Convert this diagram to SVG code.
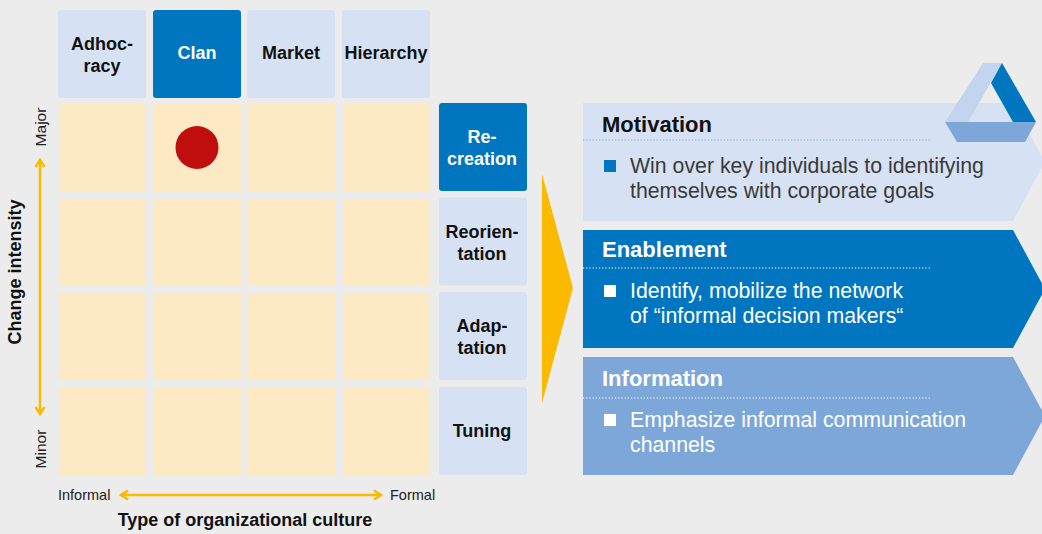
<svg xmlns="http://www.w3.org/2000/svg" width="1042" height="534" viewBox="0 0 1042 534">
<style>
.bg{fill:#ececec}
.hdr{fill:#d6e2f3}
.dark{fill:#0076c0}
.mid{fill:#7da7d9}
.cell{fill:#fdeac4}
.lbl{font-family:"Liberation Sans",Arial,sans-serif;font-weight:bold;font-size:18px;text-anchor:middle;fill:#111}
.lblw{fill:#fff}
.axis{font-family:"Liberation Sans",Arial,sans-serif;font-size:14.5px;fill:#222}
.axv{font-size:15.5px}
.ttl{font-family:"Liberation Sans",Arial,sans-serif;font-weight:bold;font-size:22px;fill:#111}
.txt{font-family:"Liberation Sans",Arial,sans-serif;font-size:21.3px;fill:#3a3a3a}
.w{fill:#fff}
.arr{stroke:#fbb900;stroke-width:2.5;fill:none}
</style>
<defs>
<marker id="chev" markerUnits="userSpaceOnUse" markerWidth="14" markerHeight="14" viewBox="-10 -7 12 14" refX="0" refY="0" orient="auto-start-reverse">
<path d="M-7,-4.5 L0,0 L-7,4.5" fill="none" stroke="#fbb900" stroke-width="2.5"/>
</marker>
</defs>
<rect class="bg" x="0" y="0" width="1042" height="534"/>

<g id="header-adhocracy"><rect class="hdr" x="58" y="10" width="88" height="88" rx="3"/><text class="lbl" x="102" y="50">Adhoc-</text><text class="lbl" x="102" y="72">racy</text></g>
<g id="header-clan"><rect class="dark" x="153" y="10" width="88" height="88" rx="3"/><text class="lbl lblw" x="197" y="59">Clan</text></g>
<g id="header-market"><rect class="hdr" x="247" y="10" width="88" height="88" rx="3"/><text class="lbl" x="291" y="59">Market</text></g>
<g id="header-hierarchy"><rect class="hdr" x="342" y="10" width="88" height="88" rx="3"/><text class="lbl" x="386" y="59">Hierarchy</text></g>

<g id="grid">
<rect class="cell" x="59" y="104" width="87" height="87"/><rect class="cell" x="154" y="104" width="87" height="87"/><rect class="cell" x="248" y="104" width="87" height="87"/><rect class="cell" x="343" y="104" width="87" height="87"/>
<rect class="cell" x="59" y="199" width="87" height="87"/><rect class="cell" x="154" y="199" width="87" height="87"/><rect class="cell" x="248" y="199" width="87" height="87"/><rect class="cell" x="343" y="199" width="87" height="87"/>
<rect class="cell" x="59" y="293" width="87" height="87"/><rect class="cell" x="154" y="293" width="87" height="87"/><rect class="cell" x="248" y="293" width="87" height="87"/><rect class="cell" x="343" y="293" width="87" height="87"/>
<rect class="cell" x="59" y="388" width="87" height="87"/><rect class="cell" x="154" y="388" width="87" height="87"/><rect class="cell" x="248" y="388" width="87" height="87"/><rect class="cell" x="343" y="388" width="87" height="87"/>
</g>
<g id="marker-dot"><circle cx="197" cy="147.5" r="21.5" fill="#c00e0e"/></g>

<g id="row-recreation"><rect class="dark" x="439" y="103" width="88" height="88" rx="3"/><text class="lbl lblw" x="482" y="143">Re-</text><text class="lbl lblw" x="482" y="165">creation</text></g>
<g id="row-reorientation"><rect class="hdr" x="439" y="197.5" width="88" height="88" rx="3"/><text class="lbl" x="482" y="238">Reorien-</text><text class="lbl" x="482" y="260">tation</text></g>
<g id="row-adaptation"><rect class="hdr" x="439" y="292" width="88" height="88" rx="3"/><text class="lbl" x="482" y="332">Adap-</text><text class="lbl" x="482" y="354">tation</text></g>
<g id="row-tuning"><rect class="hdr" x="439" y="387" width="88" height="88" rx="3"/><text class="lbl" x="482" y="437">Tuning</text></g>

<g id="axis-labels">
<text class="axis axv" transform="translate(45.5,127) rotate(-90)" text-anchor="middle">Major</text>
<text class="axis axv" transform="translate(45.5,449) rotate(-90)" text-anchor="middle">Minor</text>
<text class="lbl" transform="translate(21,272) rotate(-90)">Change intensity</text>
<text class="axis" x="58" y="500">Informal</text>
<text class="axis" x="390" y="500">Formal</text>
<text class="lbl" x="245" y="526">Type of organizational culture</text>
</g>

<g id="connectors">
<line class="arr" x1="40" y1="160" x2="40" y2="414" marker-start="url(#chev)" marker-end="url(#chev)"/>
<line class="arr" x1="121" y1="495" x2="381" y2="495" marker-start="url(#chev)" marker-end="url(#chev)"/>
<polygon points="542,174 573,288 542,403" fill="#fbb900"/>
</g>

<g id="panel-motivation">
<polygon points="583,103 1013,103 1045,162 1013,221 583,221" class="hdr"/>
<text class="ttl" x="602" y="132">Motivation</text>
<line x1="583" y1="140" x2="931" y2="140" stroke="#7da7d9" stroke-width="1.2" stroke-dasharray="1.2 2"/>
<rect x="604" y="160" width="12" height="12" class="dark"/>
<text class="txt" x="630" y="173">Win over key individuals to identifying</text>
<text class="txt" x="630" y="198">themselves with corporate goals</text>
</g>

<g id="panel-enablement">
<polygon points="583,230 1013,230 1045,289 1013,348 583,348" class="dark"/>
<text class="ttl w" x="602" y="257">Enablement</text>
<line x1="583" y1="268" x2="931" y2="268" stroke="#fff" stroke-width="1.2" stroke-dasharray="1.2 2"/>
<rect x="604" y="285" width="12" height="12" fill="#fff"/>
<text class="txt w" x="630" y="298">Identify, mobilize the network</text>
<text class="txt w" x="630" y="323">of “informal decision makers“</text>
</g>

<g id="panel-information">
<polygon points="583,357 1013,357 1045,416 1013,475 583,475" class="mid"/>
<text class="ttl w" x="602" y="386">Information</text>
<line x1="583" y1="398" x2="931" y2="398" stroke="#fff" stroke-width="1.2" stroke-dasharray="1.2 2"/>
<rect x="604" y="414" width="12" height="12" fill="#fff"/>
<text class="txt w" x="630" y="427">Emphasize informal communication</text>
<text class="txt w" x="630" y="452">channels</text>
</g>

<g id="logo">
<polygon points="983,63 1002,63 968,122 945,122" fill="#c3d4ee"/>
<polygon points="1002,63 1036,122 1013,122 991,83" fill="#0076c0"/>
<polygon points="945,122 1036,122 1025,142 957,142" fill="#7da7d9"/>
</g>
</svg>
